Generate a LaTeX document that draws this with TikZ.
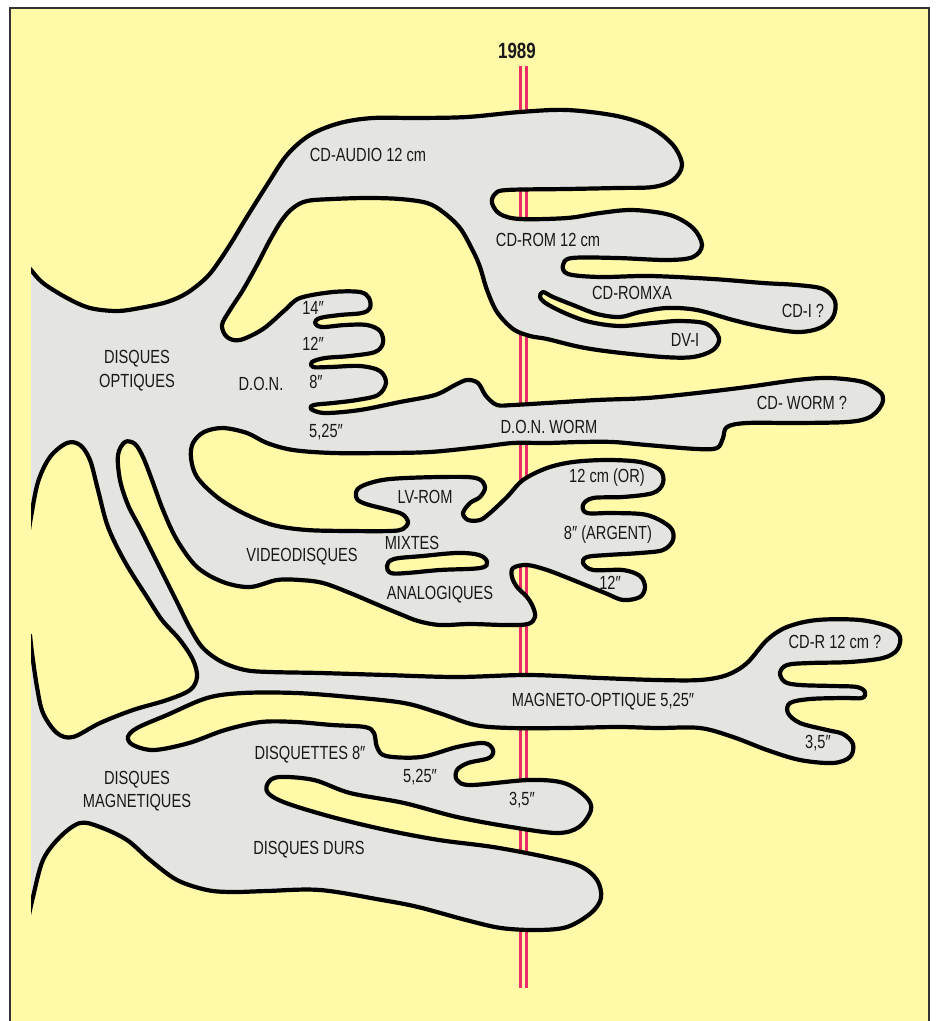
\documentclass[tikz,border=0pt]{standalone}
\usepackage{fontspec}
\newfontfamily\cond[FakeStretch=0.77]{Liberation Sans}
\definecolor{ybg}{RGB}{255,249,168}
\definecolor{gfill}{RGB}{228,228,225}
\definecolor{rline}{RGB}{235,45,105}
\tikzset{
  lbl/.style={font=\cond\fontsize{19}{20}\selectfont, text=black!90, inner sep=0pt},
  outline/.style={draw=black, line width=4.2pt, line join=round, fill=gfill},
  redl/.style={draw=rline, line width=2.6pt},
  framel/.style={draw=black!80, line width=1.4pt}
}
\begin{document}
\begin{tikzpicture}[x=1pt,y=-1pt]
\useasboundingbox (0,0) rectangle (936,1021);
\fill[white] (0,0) rectangle (936,1021);
\fill[ybg] (10,8) rectangle (929,1021);
\draw[framel] (10,1025) -- (10,8) -- (929,8) -- (929,1025);
% 1989 line
\draw[redl] (520.5,66) -- (520.5,988);
\draw[redl] (526.5,66) -- (526.5,988);
\begin{scope}
\clip (31,0) rectangle (936,1021);
\path[outline] plot[smooth, tension=0.55] coordinates {
(25,263) (31,270) (43,283) (67,298) (90,308) (117,311) (140,308) (167,302) (187,293) (207,277) (220,260) (233,240)
(245,220) (267,185) (287,155) (310,135) (340,123) (373,118) (417,118) (467,117) (520,112) (567,110) (617,116) (650,127) (673,145) (682,165) (673,180) (653,187) (617,188) (567,189) (507,190) (495,194) (492,203) (500,214) (520,219) (567,218) (600,213) (633,210) (670,215) (693,228) (702,245) (693,257) (667,260) (617,258) (572,258) (563,265) (568,274) (600,277) (650,276) (713,279) (763,283) (797,285) (823,289) (835,301) (833,317) (820,328) (797,332) (763,327) (733,320) (697,310) (667,308) (640,312) (620,317) (597,314) (573,305) (553,297) (543,292) (540,297) (547,304) (567,314) (590,322) (620,326) (653,323) (680,321) (707,324) (719,338) (713,350) (693,357) (663,357) (613,352) (580,347) (547,339) (530,336) (513,329) (497,312) (487,290) (480,267) (473,251) (460,228) (443,212) (427,203) (400,199) (367,198) (333,199) (307,201) (293,208) (282,220) (270,240) (257,265) (243,290) (230,310) (222,325) (227,337) (240,340) (263,329) (285,310) (300,298)
(333,292) (360,292) (369,298) (370,308) (362,313) (340,315) (320,318) (315,323) (322,327) (345,325) (367,325) (380,331) (383,343) (375,352) (350,356) (325,358) (312,362) (313,367) (330,367) (360,366) (380,371) (386,383) (378,395) (357,400) (333,403) (314,405) (311,409) (325,413) (360,410) (400,402) (435,395) (455,385) (467,380) (478,383) (486,396) (497,405) (513,405) (547,403) (597,400) (647,398) (697,393) (747,387) (797,380) (830,378) (863,382) (880,392) (883,400) (879,409) (868,418) (847,422) (797,423) (747,423) (727,427) (723,438) (717,448) (697,449) (647,445) (613,442) (580,442) (547,443) (513,443) (480,447) (430,452) (383,453) (333,453) (293,450) (267,443) (247,433) (223,428) (204,432) (193,443) (191,458) (197,477) (217,497) (243,513) (273,525) (307,530) (350,531) (390,531) (403,529) (408,522) (402,514) (385,509) (366,504) (357,499) (357,490) (367,484) (390,479) (440,477) (476,478) (485,487) (480,497) (470,503) (463,513) (468,520) (480,520) (490,513) (507,497) (523,480) (547,468) (573,462) (607,460) (640,462) (660,470) (663,483) (653,493) (623,497) (593,498) (583,505) (587,513) (613,513) (647,515) (670,527) (673,540) (663,550) (640,553) (607,555) (587,557) (583,563) (593,570) (623,570) (640,576) (645,587) (640,597) (623,600) (605,593) (573,580) (547,570) (527,565) (513,568) (512,577) (517,587) (527,597) (533,607) (535,617) (528,624) (505,625) (470,624) (440,625) (418,621) (400,614) (383,607) (350,593) (323,583) (300,580) (277,580) (250,587) (223,582) (197,567) (177,540) (163,510) (152,480) (143,457) (135,444) (125,442) (118,455) (120,480) (128,505) (140,528) (152,552) (165,578) (178,604) (190,628) (203,648) (222,662) (245,670) (270,672) (320,673) (386,675) (457,677) (529,675) (600,678) (657,680) (700,680) (727,675) (747,663) (767,640) (787,627) (817,620) (860,620) (890,627) (900,637) (897,650) (883,658) (850,662) (810,663) (787,665) (780,673) (785,682) (800,685) (833,686) (857,687) (865,692) (862,698) (843,698) (810,699) (790,703) (788,713) (800,723) (827,730) (843,734) (853,744) (850,757) (833,763) (800,760) (767,750) (733,737) (700,728) (657,728) (618,727) (564,728) (511,728) (475,725) (439,713) (404,703) (350,697) (296,693) (243,693) (207,698) (167,715) (137,728) (128,737) (133,745) (154,750) (189,743) (225,730) (261,722) (296,722) (332,725) (365,727) (374,733) (377,747) (386,756) (421,757) (457,747) (484,743) (493,750) (489,758) (468,763) (457,770) (457,780) (471,785) (529,780) (564,783) (586,797) (591,810) (579,827) (557,833) (511,827) (457,817) (404,803) (350,793) (314,780) (279,777) (268,783) (268,793) (286,803) (332,817) (386,830) (439,840) (493,847) (546,857) (580,866) (597,880) (601,898) (591,913) (567,927) (537,930) (501,928) (466,920) (418,907) (382,900) (320,890) (267,891) (233,892) (207,890) (177,880) (150,860) (127,840) (100,827) (80,823) (60,837) (43,860) (33,897) (29,915)}
 -- (5,915) -- (5,630) --
 plot[smooth, tension=0.55] coordinates {
(30,635) (32,653) (37,687) (43,713) (57,733) (73,737) (100,723) (133,710) (167,700) (190,690) (197,677) (193,660) (180,640) (162,620) (147,597) (125,562) (108,527) (98,490) (90,460) (80,445) (67,443) (50,457) (38,482) (31,517) (29,530)}
 -- (5,530) -- (5,263) -- cycle;
\end{scope}
% slot between MIXTES and ANALOGIQUES
\draw[line width=4.2pt, fill=ybg] plot[smooth cycle, tension=0.6] coordinates {
(387,566) (394,559) (423,556) (457,553) (479,555) (487,562) (480,568) (440,570) (407,573) (391,573)};
% labels
\node[lbl, font=\cond\bfseries\fontsize{22}{22}\selectfont] (y1989) at (517,51) {1989};
\node[lbl] (cdaudio) at (368,155) {CD-AUDIO 12 cm};
\node[lbl] (cdrom) at (548,240) {CD-ROM 12 cm};
\node[lbl] (cdromxa) at (632,293) {CD-ROMXA};
\node[lbl] (cdi) at (803,311) {CD-I ?};
\node[lbl] (dvi) at (685,340) {DV-I};
\node[lbl] (disqopt1) at (137,359) {DISQUES};
\node[lbl] (disqopt2) at (137,383) {OPTIQUES};
\node[lbl] (don) at (261,384) {D.O.N.};
\node[lbl] (d14) at (313,308) {14″};
\node[lbl] (d12) at (313,344) {12″};
\node[lbl] (d8) at (316,382) {8″};
\node[lbl] (d525) at (326,432) {5,25″};
\node[lbl] (donworm) at (549,427) {D.O.N. WORM};
\node[lbl] (cdworm) at (802,403) {CD- WORM ?};
\node[lbl] (lvrom) at (425,497) {LV-ROM};
\node[lbl] (mixtes) at (412,543) {MIXTES};
\node[lbl] (analog) at (440,595) {ANALOGIQUES};
\node[lbl] (video) at (302,557) {VIDEODISQUES};
\node[lbl] (or) at (607,478) {12 cm (OR)};
\node[lbl] (argent) at (608,535) {8″ (ARGENT)};
\node[lbl] (v12) at (610,583) {12″};
\node[lbl] (cdr) at (835,642) {CD-R 12 cm ?};
\node[lbl] (magopt) at (603,702) {MAGNETO-OPTIQUE 5,25″};
\node[lbl] (m35) at (818,743) {3,5″};
\node[lbl] (disqmag1) at (137,780) {DISQUES};
\node[lbl] (disqmag2) at (137,803) {MAGNETIQUES};
\node[lbl] (disquettes) at (310,755) {DISQUETTES 8″};
\node[lbl] (f525) at (420,777) {5,25″};
\node[lbl] (f35) at (522,800) {3,5″};
\node[lbl] (durs) at (309,850) {DISQUES DURS};
\end{tikzpicture}
\end{document}
